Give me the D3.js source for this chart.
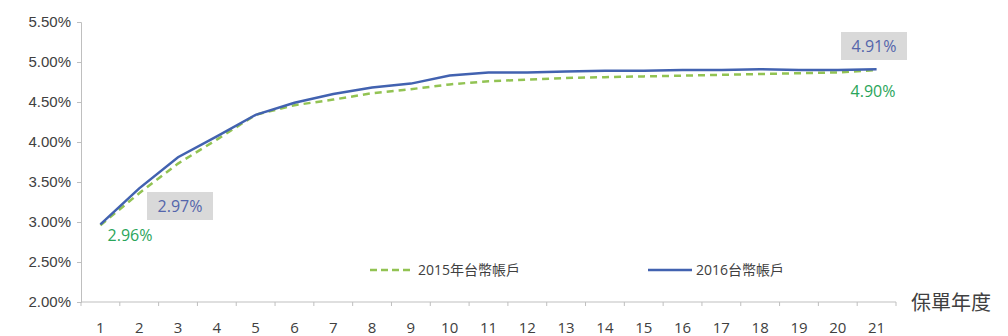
<!DOCTYPE html>
<meta charset="utf-8">
<style>
  body { margin: 0; background: #fff; }
  svg { font-family: "Open Sans", "Noto Sans CJK TC", sans-serif; }
  .tick text { fill: #404040; }
</style>
<svg width="1008" height="336"></svg>
<script src="https://cdn.jsdelivr.net/npm/d3@7"></script>
<script>

// data
var years = d3.range(1, 22);
var rate2015 = [2.96, 3.36, 3.73, 4.03, 4.34, 4.46, 4.53, 4.61, 4.66, 4.72, 4.76,
                4.78, 4.80, 4.81, 4.82, 4.83, 4.84, 4.85, 4.86, 4.87, 4.90];
var rate2016 = [2.97, 3.42, 3.81, 4.07, 4.34, 4.49, 4.60, 4.68, 4.73, 4.83, 4.87,
                4.87, 4.88, 4.89, 4.89, 4.90, 4.90, 4.91, 4.90, 4.90, 4.91];
var yTicks = [2.0, 2.5, 3.0, 3.5, 4.0, 4.5, 5.0, 5.5];
var seriesNames = ["2015年台幣帳戶", "2016台幣帳戶"];

var svg = d3.select("svg");

var x = d3.scaleBand()
    .domain(years)
    .range([81, 896]);

var y = d3.scaleLinear()
    .domain([2, 5.5])
    .range([302, 22]);

// y axis
var yAxis = svg.append("g")
    .attr("transform", "translate(81,0)")
    .call(d3.axisLeft(y).tickValues(yTicks).tickSize(4).tickPadding(6)
      .tickFormat(function(d) { return d.toFixed(2) + "%"; }));
yAxis.select(".domain").attr("stroke", "#bfbfbf");
yAxis.selectAll("line").attr("stroke", "#bfbfbf");
yAxis.selectAll("text").style("font-size", "15px");

// x axis, ticks sit between categories like Excel
var xAxis = svg.append("g")
    .attr("transform", "translate(0,302)");
xAxis.append("line")
    .attr("x1", 81).attr("x2", 896)
    .attr("stroke", "#bfbfbf");
xAxis.selectAll(".tk")
    .data(years.concat([22]))
    .enter().append("line")
    .attr("x1", function(d) { return d <= 21 ? x(d) : x(21) + x.bandwidth(); })
    .attr("x2", function(d) { return d <= 21 ? x(d) : x(21) + x.bandwidth(); })
    .attr("y1", 0).attr("y2", 4)
    .attr("stroke", "#bfbfbf");
xAxis.selectAll(".lbl")
    .data(years)
    .enter().append("text")
    .attr("x", function(d) { return x(d) + x.bandwidth() / 2; })
    .attr("y", 31)
    .attr("text-anchor", "middle")
    .style("font-size", "15px")
    .attr("fill", "#404040")
    .text(function(d) { return d; });

svg.append("text")
    .attr("x", 911).attr("y", 310)
    .style("font-size", "20px")
    .attr("fill", "#404040")
    .text("保單年度");

var line = d3.line()
    .x(function(d, i) { return x(years[i]) + x.bandwidth() / 2; })
    .y(function(d) { return y(d); });

svg.append("path")
    .datum(rate2015)
    .attr("fill", "none")
    .attr("stroke", "#92c353")
    .attr("stroke-width", 2.5)
    .attr("stroke-dasharray", "7,5")
    .attr("d", line);

svg.append("path")
    .datum(rate2016)
    .attr("fill", "none")
    .attr("stroke", "#4262b0")
    .attr("stroke-width", 2.5)
    .attr("d", line);

// value labels
function boxLabel(xc, yc, txt) {
  svg.append("rect")
    .attr("x", xc - 33).attr("y", yc - 14)
    .attr("width", 66).attr("height", 28)
    .attr("fill", "#d9d9d9");
  svg.append("text")
    .attr("x", xc).attr("y", yc + 6)
    .attr("text-anchor", "middle")
    .style("font-size", "16px")
    .attr("fill", "#5465ab")
    .text(txt);
}

boxLabel(180, 206, rate2016[0].toFixed(2) + "%");
boxLabel(874, 46, rate2016[20].toFixed(2) + "%");

svg.append("text")
  .attr("x", 130).attr("y", 241)
  .attr("text-anchor", "middle")
  .style("font-size", "16px")
  .attr("fill", "#2aa55a")
  .text(rate2015[0].toFixed(2) + "%");

svg.append("text")
  .attr("x", 873).attr("y", 97)
  .attr("text-anchor", "middle")
  .style("font-size", "16px")
  .attr("fill", "#2aa55a")
  .text(rate2015[20].toFixed(2) + "%");

// legend
var legend = svg.append("g");
var lx = [370, 648];
legend.selectAll("line")
  .data(seriesNames)
  .enter().append("line")
  .attr("x1", function(d, i) { return lx[i]; })
  .attr("x2", function(d, i) { return lx[i] + 44; })
  .attr("y1", 270).attr("y2", 270)
  .attr("stroke", function(d, i) { return i == 0 ? "#92c353" : "#4262b0"; })
  .attr("stroke-width", 2.5)
  .attr("stroke-dasharray", function(d, i) { return i == 0 ? "7,4" : null; });
legend.selectAll("text")
  .data(seriesNames)
  .enter().append("text")
  .attr("x", function(d, i) { return lx[i] + 48; })
  .attr("y", 275)
  .style("font-size", "14px")
  .attr("fill", "#404040")
  .text(function(d) { return d; });

</script>
